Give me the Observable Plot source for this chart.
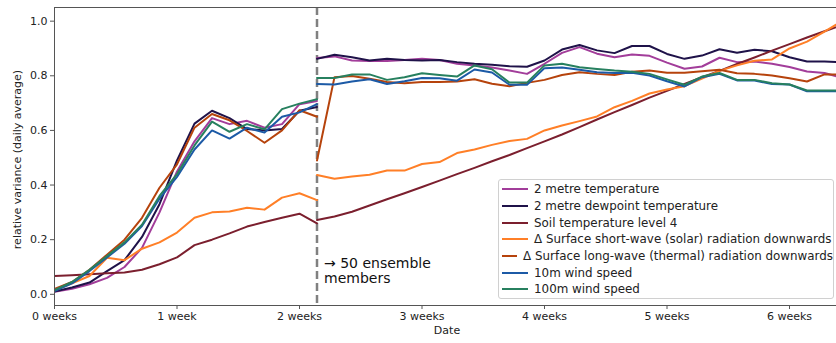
<!DOCTYPE html>
<html>
<head>
<meta charset="utf-8">
<script src="https://cdn.jsdelivr.net/npm/d3@7"></script>
<script src="https://cdn.jsdelivr.net/npm/@observablehq/plot@0.6"></script>
<style>
  html, body { margin: 0; padding: 0; background: #fff; }
  #wrap { position: relative; width: 836px; height: 343px; font-family: "DejaVu Sans", sans-serif; }
  #legend { position: absolute; left: 498px; top: 179px; width: 336px; height: 120px;
    border: 1px solid #d0d0d0; border-radius: 3px; background: rgba(255,255,255,0.85);
    box-sizing: border-box; padding-top: 1px; }
  .row { height: 16.67px; display: flex; align-items: center; font-size: 11.9px; color: #222; white-space: nowrap; }
  .sw { width: 26px; height: 0; border-top: 2px solid; margin-left: 3px; margin-right: 6px; }
</style>
</head>
<body>
<div id="wrap"><div id="legend"></div></div>
<script>
// ---- data ----
const seriesNames = [
  "2 metre temperature",
  "2 metre dewpoint temperature",
  "Soil temperature level 4",
  "\u0394 Surface short-wave (solar) radiation downwards",
  "\u0394 Surface long-wave (thermal) radiation downwards",
  "10m wind speed",
  "100m wind speed"
];
const seriesColors = ["#a23d9a", "#1f1249", "#7b1f2e", "#ff7f27", "#b6430c", "#1c5aa6", "#27805f"];

// days of the first section (before the break) and second section (after)
const daysA = [0,1,2,3,4,5,6,7,8,9,10,11,12,13,14,15];
const daysB = [15,16,17,18,19,20,21,22,23,24,25,26,27,28,29,30,31,32,33,34,35,36,37,38,39,40,41,42,43,44,45];

const t2mA  = [0.009,0.02,0.037,0.06,0.10,0.17,0.30,0.45,0.56,0.645,0.623,0.635,0.61,0.623,0.696,0.708];
const d2mA  = [0.01,0.025,0.043,0.085,0.125,0.21,0.33,0.49,0.625,0.672,0.645,0.605,0.60,0.605,0.672,0.686];
const soilA = [0.067,0.07,0.073,0.077,0.08,0.09,0.11,0.135,0.18,0.20,0.223,0.248,0.265,0.28,0.295,0.26];
const swA   = [0.015,0.04,0.067,0.134,0.125,0.167,0.19,0.226,0.28,0.30,0.303,0.317,0.31,0.354,0.37,0.345];
const lwA   = [0.02,0.045,0.09,0.145,0.20,0.28,0.39,0.476,0.61,0.66,0.637,0.598,0.555,0.60,0.674,0.65];
const w10A  = [0.012,0.04,0.085,0.135,0.185,0.25,0.35,0.43,0.53,0.60,0.57,0.61,0.592,0.65,0.666,0.696];
const w100A = [0.015,0.045,0.09,0.14,0.19,0.255,0.36,0.44,0.545,0.632,0.595,0.623,0.604,0.678,0.698,0.714];

const t2mB  = [0.865,0.871,0.856,0.854,0.854,0.858,0.862,0.858,0.844,0.838,0.83,0.819,0.807,0.844,0.884,0.905,0.881,0.868,0.878,0.873,0.848,0.826,0.834,0.866,0.85,0.852,0.844,0.832,0.816,0.81,0.793];
const d2mB  = [0.862,0.877,0.868,0.856,0.862,0.858,0.856,0.858,0.85,0.844,0.84,0.835,0.833,0.856,0.896,0.913,0.893,0.883,0.909,0.909,0.88,0.862,0.874,0.897,0.884,0.895,0.89,0.868,0.852,0.852,0.85];
const soilB = [0.272,0.285,0.302,0.325,0.348,0.37,0.393,0.416,0.44,0.463,0.487,0.51,0.535,0.56,0.585,0.612,0.64,0.667,0.693,0.72,0.745,0.77,0.795,0.818,0.843,0.867,0.892,0.916,0.94,0.963,0.985];
const swB   = [0.437,0.423,0.431,0.438,0.453,0.453,0.477,0.484,0.517,0.53,0.547,0.561,0.569,0.60,0.618,0.634,0.651,0.685,0.708,0.735,0.75,0.762,0.79,0.818,0.838,0.855,0.86,0.90,0.925,0.962,1.0];
const lwB   = [0.49,0.795,0.799,0.789,0.777,0.773,0.777,0.777,0.779,0.787,0.771,0.762,0.774,0.785,0.803,0.813,0.807,0.803,0.815,0.819,0.811,0.811,0.817,0.822,0.809,0.807,0.801,0.791,0.779,0.805,0.805];
const w10B  = [0.77,0.768,0.779,0.787,0.77,0.78,0.792,0.791,0.782,0.823,0.812,0.767,0.767,0.828,0.83,0.822,0.813,0.81,0.811,0.801,0.78,0.761,0.795,0.807,0.783,0.783,0.77,0.768,0.743,0.743,0.743];
const w100B = [0.792,0.792,0.805,0.805,0.785,0.795,0.809,0.803,0.797,0.838,0.824,0.775,0.775,0.838,0.844,0.831,0.825,0.819,0.815,0.807,0.787,0.767,0.797,0.81,0.785,0.785,0.773,0.768,0.746,0.746,0.746];

const xTicks = [0, 7, 14, 21, 28, 35, 42];
const xTickLabels = ["0 weeks", "1 week", "2 weeks", "3 weeks", "4 weeks", "5 weeks", "6 weeks"];
const yTicks = [0, 0.2, 0.4, 0.6, 0.8, 1.0];
const breakDay = [15];
const annotation = [{x: 15, y: 0.043, text: "\u2192 50 ensemble\nmembers"}];

// ---- build table ----
const sectionsA = [t2mA, d2mA, soilA, swA, lwA, w10A, w100A];
const sectionsB = [t2mB, d2mB, soilB, swB, lwB, w10B, w100B];
const rows = [];
seriesNames.forEach((name, i) => {
  daysA.forEach((d, j) => rows.push({series: name, seg: name + "|A", day: d, value: sectionsA[i][j]}));
  daysB.forEach((d, j) => rows.push({series: name, seg: name + "|B", day: d, value: sectionsB[i][j]}));
});

const W = 836, H = 343;
const mL = 54, mR = -3, mT = 7, mB = 38;
const pxPerDay = 17.5;
const xMax = (W - mR - mL) / pxPerDay;

const chart = Plot.plot({
  width: W, height: H,
  marginLeft: mL, marginRight: mR, marginTop: mT, marginBottom: mB,
  style: {fontFamily: "DejaVu Sans, sans-serif", fontSize: "11px", color: "#222", background: "transparent", overflow: "visible"},
  x: {domain: [0, xMax], ticks: xTicks, tickFormat: d => xTickLabels[xTicks.indexOf(d)], tickSize: 4, tickPadding: 3, label: null},
  y: {domain: [-0.041, 1.05], ticks: yTicks, tickFormat: d3.format(".1f"), tickSize: 4, tickPadding: 3, label: null},
  color: {domain: seriesNames, range: seriesColors},
  marks: [
    Plot.ruleX(breakDay, {stroke: "#808080", strokeWidth: 2.5, strokeDasharray: "8,4"}),
    Plot.line(rows, {x: "day", y: "value", z: "seg", stroke: "series", strokeWidth: 2, clip: true}),
    Plot.frame({stroke: "#555", strokeWidth: 1}),
    Plot.text(annotation, {x: "x", y: "y", text: "text", dx: 7, textAnchor: "start", lineAnchor: "bottom", fontSize: 14, fill: "#111", lineHeight: 1.05}),
    Plot.text(["Date"], {frameAnchor: "bottom", dy: 28, fontSize: 11, fill: "#222"}),
    Plot.text(["relative variance (daily average)"], {frameAnchor: "left", dx: -37, dy: 3, rotate: -90, textAnchor: "middle", fontSize: 11, fill: "#222"})
  ]
});

d3.select(chart).selectAll("[aria-label$='axis'] path, [aria-label$='tick'] path").attr("stroke", "#555");
document.getElementById("wrap").prepend(chart);

const legend = document.getElementById("legend");
seriesNames.forEach((name, i) => {
  const row = document.createElement("div");
  row.className = "row";
  const sw = document.createElement("div");
  sw.className = "sw";
  sw.style.borderTopColor = seriesColors[i];
  const label = document.createElement("span");
  label.textContent = name;
  row.appendChild(sw);
  row.appendChild(label);
  legend.appendChild(row);
});
</script>
</body>
</html>
